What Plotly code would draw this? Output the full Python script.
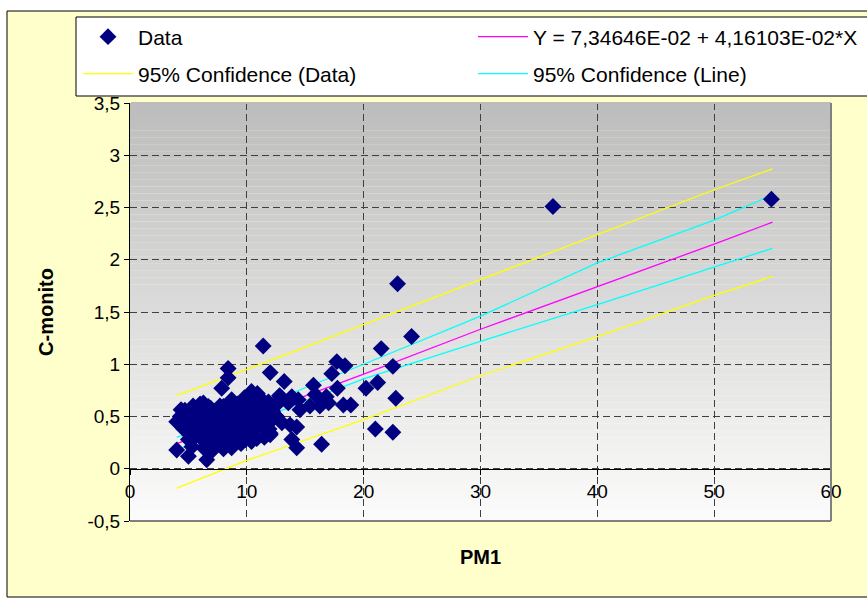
import plotly.graph_objects as go

# ---------------- data ----------------
pm1 = [54.9, 36.2, 22.9, 24.1, 21.5, 22.5, 21.2, 20.2, 22.75, 21.0, 22.5,
       13.2, 12.85, 13.85, 14.4, 14.55, 13.55, 15.7, 15.85, 15.4, 16.25, 16.8, 17.0,
       17.27, 17.7, 18.4, 17.75, 18.26, 18.9, 16.4, 13.85, 14.27, 12.55, 13.0, 13.7, 14.27,
       11.4, 8.4, 8.4, 7.85, 12.0, 10.4, 12.7, 6.57, 12.0, 12.8,
       4.37, 4.0, 5.0, 5.0, 5.3, 6.28, 6.7, 8.0, 9.0, 10.27, 11.85, 11.1, 10.85, 9.56,
       7.7, 6.28, 7.13, 8.56, 12.0, 10.9, 9.8, 8.7,
       6.3, 7.0, 8.0, 8.7, 9.5, 10.4, 11.5,
       4.0, 4.3, 4.5, 4.6, 4.8, 5.0, 5.2, 5.3, 5.5, 5.6, 5.8, 5.9, 6.0, 6.2, 6.3, 6.5,
       6.6, 6.8, 7.0, 7.0, 7.2, 7.3, 7.5, 7.6, 7.8, 8.0, 8.1, 8.3, 8.5, 8.6, 8.8, 9.0,
       9.1, 9.3, 9.5, 9.6, 9.8, 10.0, 10.1, 10.3, 10.5, 10.6, 10.8, 11.0, 11.2, 11.4,
       11.5, 11.7, 12.0, 12.2, 12.5, 6.0, 6.9, 7.7, 9.2, 10.8, 11.3, 5.4, 4.7, 8.9,
       9.9, 11.9, 12.4]
cmonito = [2.58, 2.51, 1.77, 1.265, 1.15, 0.98, 0.825, 0.77, 0.675, 0.38, 0.35,
           0.835, 0.69, 0.69, 0.66, 0.565, 0.63, 0.80, 0.71, 0.60, 0.60, 0.69, 0.63,
           0.91, 1.025, 0.985, 0.77, 0.61, 0.61, 0.235, 0.28, 0.20, 0.50, 0.44, 0.42, 0.40,
           1.175, 0.96, 0.87, 0.77, 0.92, 0.74, 0.63, 0.086, 0.325, 0.70,
           0.565, 0.18, 0.12, 0.28, 0.21, 0.63, 0.595, 0.595, 0.59, 0.66, 0.64, 0.66, 0.29, 0.28,
           0.245, 0.34, 0.31, 0.31, 0.34, 0.72, 0.68, 0.66,
           0.20, 0.17, 0.19, 0.20, 0.24, 0.26, 0.30,
           0.45, 0.50, 0.42, 0.38, 0.48, 0.35, 0.44, 0.52, 0.30, 0.40, 0.47, 0.36, 0.55, 0.28, 0.42, 0.33,
           0.50, 0.45, 0.38, 0.25, 0.55, 0.30, 0.42, 0.35, 0.48, 0.28, 0.40, 0.52, 0.33, 0.45, 0.38, 0.50,
           0.30, 0.43, 0.55, 0.36, 0.47, 0.40, 0.58, 0.33, 0.50, 0.44, 0.38, 0.55, 0.47, 0.52,
           0.40, 0.58, 0.45, 0.55, 0.50, 0.62, 0.58, 0.60, 0.62, 0.63, 0.66, 0.60, 0.56, 0.25,
           0.28, 0.38, 0.60]

line_x = [4, 10, 20, 30, 40, 50, 55]
fit_y = [0.24, 0.49, 0.905, 1.335, 1.74, 2.15, 2.36]
line_ci_up = [0.30, 0.55, 1.00, 1.46, 1.97, 2.38, 2.62]
line_ci_lo = [0.18, 0.43, 0.86, 1.22, 1.57, 1.93, 2.11]
data_ci_up = [0.70, 0.95, 1.38, 1.81, 2.24, 2.67, 2.87]
data_ci_lo = [-0.185, 0.08, 0.47, 0.89, 1.265, 1.66, 1.84]

y_tickvals = [-0.5, 0, 0.5, 1, 1.5, 2, 2.5, 3, 3.5]
y_ticktext = ["-0,5", "0", "0,5", "1", "1,5", "2", "2,5", "3", "3,5"]
x_tickvals = [0, 10, 20, 30, 40, 50, 60]
x_ticktext = ["0", "10", "20", "30", "40", "50", "60"]

# ---------------- layout geometry ----------------
W, H = 867, 599
PL, PR, PT, PB = 130, 831, 103, 521


def px2x(px):
    return (px - PL) / (PR - PL)


def py2y(py):
    return (PB - py) / (PB - PT)


FONT = "Liberation Sans, Arial, sans-serif"

fig = go.Figure()
fig.add_trace(go.Scatter(x=line_x, y=data_ci_up, mode="lines", name="95% Confidence (Data)",
                         line=dict(color="#FFFF00", width=1.3), legend="legend2", legendrank=1))
fig.add_trace(go.Scatter(x=line_x, y=data_ci_lo, mode="lines", showlegend=False,
                         line=dict(color="#FFFF00", width=1.3)))
fig.add_trace(go.Scatter(x=line_x, y=line_ci_up, mode="lines", name="95% Confidence (Line)",
                         line=dict(color="#00FFFF", width=1.3), legend="legend2", legendrank=2))
fig.add_trace(go.Scatter(x=line_x, y=line_ci_lo, mode="lines", showlegend=False,
                         line=dict(color="#00FFFF", width=1.3)))
fig.add_trace(go.Scatter(x=line_x, y=fit_y, mode="lines", name="Y = 7,34646E-02 + 4,16103E-02*X",
                         line=dict(color="#FF00FF", width=1.3), legend="legend", legendrank=2))
fig.add_trace(go.Scatter(x=pm1, y=cmonito, mode="markers", name="Data",
                         marker=dict(symbol="diamond", size=13, color="#000080", line=dict(width=0)),
                         legend="legend", legendrank=1))

TOPC, BOTC = 188, 252
shapes = []
# chart area (yellow)
shapes.append(dict(type="rect", xref="paper", yref="paper", layer="below",
                   x0=px2x(7), x1=px2x(872), y0=py2y(597), y1=py2y(11),
                   fillcolor="#FFFFCC", line=dict(color="black", width=1)))
# gradient plot area
N = 60
for i in range(N):
    c = round(TOPC + (BOTC - TOPC) * (i + 0.5) / N)
    shapes.append(dict(type="rect", xref="paper", yref="paper", layer="below",
                       x0=0, x1=1, y0=1 - (i + 1) / N, y1=1 - i / N,
                       fillcolor=f"rgb({c},{c},{c})", line=dict(width=0)))
# hide top gridline (edge of plot area)
shapes.append(dict(type="line", xref="paper", yref="paper", x0=px2x(PL + 1), x1=1, y0=1, y1=1,
                   line=dict(color=f"rgb({TOPC},{TOPC},{TOPC})", width=2)))
# plot border right & bottom
shapes.append(dict(type="line", xref="paper", yref="paper", x0=1, x1=1, y0=0, y1=1,
                   line=dict(color="#808080", width=2)))
shapes.append(dict(type="line", xref="paper", yref="paper", x0=0, x1=1, y0=0, y1=0,
                   line=dict(color="#808080", width=2)))
# legend box
shapes.append(dict(type="rect", xref="paper", yref="paper", layer="below",
                   x0=px2x(76), x1=px2x(880), y0=py2y(96), y1=py2y(17),
                   fillcolor="white", line=dict(color="black", width=1)))

leg_common = dict(orientation="h", xanchor="left", yanchor="middle",
                  bgcolor="rgba(0,0,0,0)", borderwidth=0,
                  font=dict(family=FONT, size=21, color="black"),
                  entrywidth=330, entrywidthmode="pixels", itemwidth=50)

fig.update_layout(
    width=W, height=H,
    margin=dict(l=PL, r=W - PR, t=PT, b=H - PB, pad=0, autoexpand=False),
    paper_bgcolor="white", plot_bgcolor="rgba(0,0,0,0)",
    font=dict(family=FONT, size=18, color="black"),
    shapes=shapes,
    legend=dict(x=px2x(78), y=py2y(37), **leg_common),
    legend2=dict(x=px2x(78), y=py2y(74), **leg_common),
    xaxis=dict(range=[0, 60], tickvals=x_tickvals, ticktext=x_ticktext,
               anchor="free", position=py2y(469), showline=True, linecolor="black", linewidth=1,
               ticks="outside", ticklen=5, tickcolor="black",
               showgrid=True, gridcolor="#404040", griddash="7px,4px", gridwidth=1,
               zeroline=False, tickfont=dict(family=FONT, size=19),
               title=dict(text="<b>PM1</b>", font=dict(family=FONT, size=20), standoff=49)),
    yaxis=dict(range=[-0.5, 3.5], tickvals=y_tickvals, ticktext=y_ticktext,
               showline=True, linecolor="black", linewidth=1,
               ticks="outside", ticklen=5, tickcolor="black",
               showgrid=True, gridcolor="#404040", griddash="7px,4px", gridwidth=1,
               zeroline=False, tickfont=dict(family=FONT, size=19),
               title=dict(text="<b>C-monito</b>", font=dict(family=FONT, size=20), standoff=28)),
    showlegend=True,
)

fig.write_html("out.html")
